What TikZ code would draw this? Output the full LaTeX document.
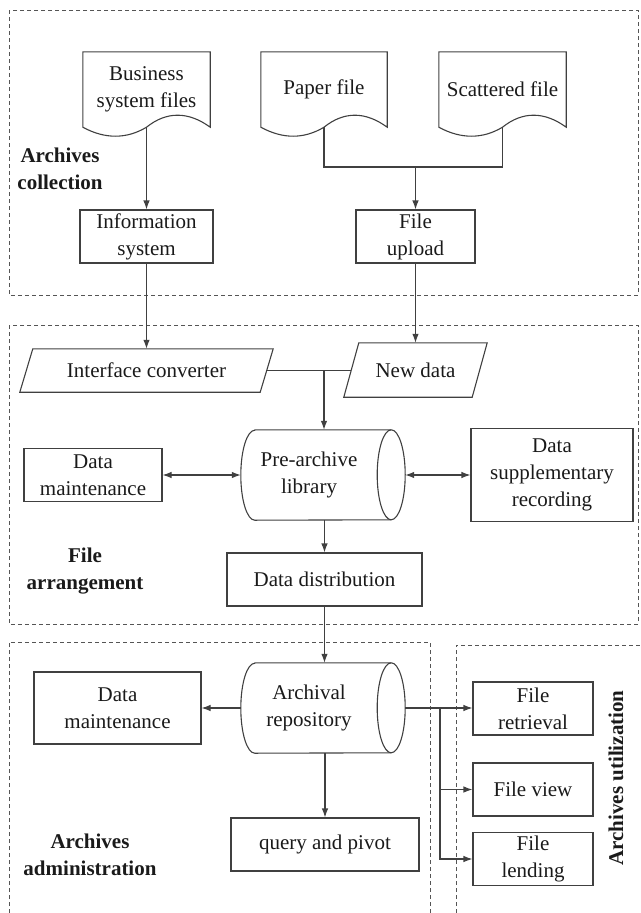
\documentclass[tikz,border=0pt]{standalone}
\usepackage{fontspec}
\setmainfont{Liberation Serif}
\usetikzlibrary{arrows.meta,calc}
\definecolor{linec}{HTML}{404040}
\definecolor{txtc}{HTML}{1A1A1A}
\definecolor{dashc}{HTML}{555555}
\newcommand\docshape[1]{\draw[conn] (#1.north west) -- (#1.north east) -- (#1.south east) .. controls +(-22,16) and +(20,16) .. (#1.south) .. controls +(-20,-12) and +(22,-12) .. (#1.south west) -- cycle;}
\newcommand\cylshape[1]{%
  \draw[conn] ([xshift=14pt]#1.north west) -- ([xshift=14pt]#1.north east) arc[start angle=90,end angle=-90,x radius=14pt,y radius=45pt] -- ([xshift=14pt]#1.south west) arc[start angle=270,end angle=90,x radius=14pt,y radius=45pt] -- cycle;
  \draw[conn] ([xshift=14pt]#1.north east) arc[start angle=90,end angle=270,x radius=14pt,y radius=45pt];}
\newcommand\parashape[2]{\draw[conn] ([xshift=#2]#1.north west) -- ([xshift=#2]#1.north east) -- ([xshift=-#2]#1.south east) -- ([xshift=-#2]#1.south west) -- cycle;}
\begin{document}
\begin{tikzpicture}[x=1pt,y=1pt,
  font=\fontsize{21}{27}\selectfont,
  conn/.style={draw=linec,line width=1.1pt},
  arr/.style={conn,-{Latex[length=9pt,width=6.5pt]}},
  darr/.style={conn,{Latex[length=9pt,width=6.5pt]}-{Latex[length=9pt,width=6.5pt]}},
  box/.style={draw=linec,line width=1.1pt,inner sep=0pt,align=center,text=txtc},
  plain/.style={inner sep=0pt,align=center,text=txtc},
  zone/.style={draw=dashc,line width=0.9pt,dash pattern=on 4pt off 3pt},
  lbl/.style={inner sep=0pt,align=center,text=txtc,font=\fontsize{21}{27}\selectfont\bfseries}]
\useasboundingbox (0,0) rectangle (640,-913);
% zones
\draw[zone] (9,-10) rectangle (638,-295);
\draw[zone] (9,-325) rectangle (638,-624);
\draw[zone] (9,-913) -- (9,-642) -- (430,-642) -- (430,-913);
\draw[zone] (456,-913) -- (456,-645) -- (640,-645);
% archives collection
\node[plain,minimum width=127pt,minimum height=75pt] (bsf) at (146.5,-89.5) {Business\\system files};
\node[plain,minimum width=126pt,minimum height=75pt] (pf) at (324,-89.5) {Paper file};
\node[plain,minimum width=127pt,minimum height=75pt] (sf) at (502.5,-89.5) {Scattered file};
\docshape{bsf}\docshape{pf}\docshape{sf}
\node[lbl] (lcol) at (60,-168.5) {Archives\\collection};
\node[box,minimum width=133pt,minimum height=53pt] (is) at (146.5,-236.5) {Information\\system};
\node[box,minimum width=119pt,minimum height=53pt] (fu) at (415.5,-236.5) {File\\upload};
\coordinate (j0) at (415.5,-167);
\draw[arr] (bsf.south) -- (is.north);
\draw[conn] (pf.south) |- (j0) -| (sf.south);
\draw[arr] (j0) -- (fu.north);
% file arrangement
\node[plain,minimum width=240pt,minimum height=43pt] (ic) at (146.5,-370.5) {Interface converter};
\parashape{ic}{6.5pt}
\node[plain,minimum width=128pt,minimum height=54pt] (nd) at (415.5,-370) {New data};
\parashape{nd}{7.5pt}
\draw[arr] (is.south) -- (ic.north);
\draw[arr] (fu.south) -- (nd.north);
\node[plain,minimum width=136pt,minimum height=90pt] (pre) at (309,-475) {Pre-archive\\library};
\cylshape{pre}
\coordinate (preR) at ([xshift=28pt]pre.east);
\coordinate (j1) at (324,-370.5);
\draw[conn] (ic.east) -- (nd.west |- ic.east);
\draw[arr] (j1) -- (j1 |- pre.north);
\node[box,minimum width=138pt,minimum height=53pt] (dm1) at (93,-475) {Data\\maintenance};
\node[box,minimum width=162pt,minimum height=93pt] (dsr) at (552,-475) {Data\\supplementary\\recording};
\draw[darr] (dm1.east) -- (pre.west);
\draw[darr] (preR) -- (dsr.west);
\node[box,minimum width=195pt,minimum height=53pt] (dd) at (324.5,-579.5) {Data distribution};
\draw[arr] (dd.north |- pre.south) -- (dd.north);
\node[lbl] (larr) at (85,-571.5) {File\\arrangement};
% archives administration
\node[plain,minimum width=136pt,minimum height=90pt] (ar) at (309,-708) {Archival\\repository};
\cylshape{ar}
\coordinate (arR) at ([xshift=28pt]ar.east);
\draw[arr] (dd.south) -- (dd.south |- ar.north);
\node[box,minimum width=167pt,minimum height=72pt] (dm2) at (117.5,-708) {Data\\maintenance};
\draw[arr] (ar.west) -- (dm2.east);
\node[box,minimum width=188pt,minimum height=53pt] (qp) at (325,-844.5) {query and pivot};
\draw[arr] (qp.north |- ar.south) -- (qp.north);
\node[lbl] (ladm) at (90,-855) {Archives\\administration};
% archives utilization
\node[box,minimum width=120pt,minimum height=53pt] (fr) at (533,-708.5) {File\\retrieval};
\node[box,minimum width=120pt,minimum height=53pt] (fv) at (533,-789.5) {File view};
\node[box,minimum width=120pt,minimum height=53pt] (fl) at (533,-859) {File\\lending};
\coordinate (br) at (440,-708);
\draw[arr] (arR) -- (arR -| fr.west);
\draw[arr] (br) |- (fv.west);
\draw[arr] (br) |- (fl.west);
\node[lbl,rotate=90] (luti) at (616,-778) {Archives utilization};
\end{tikzpicture}
\end{document}
